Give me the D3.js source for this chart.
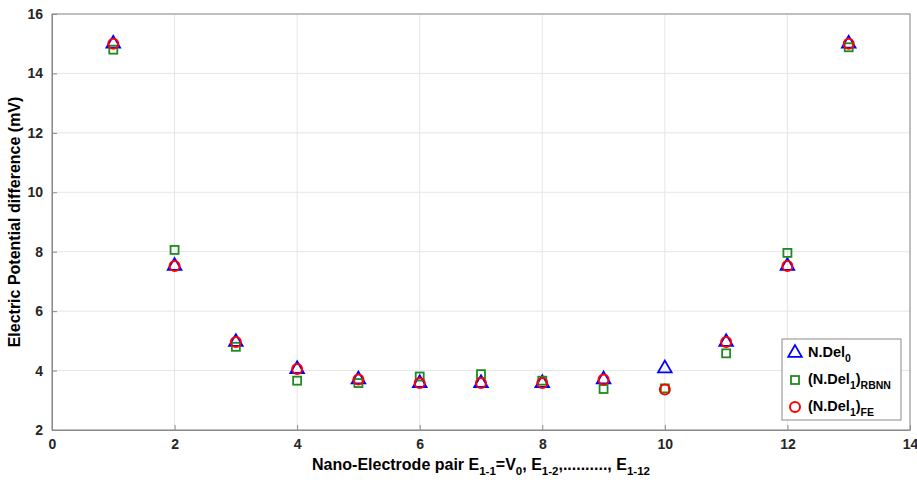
<!DOCTYPE html>
<html>
<head>
<meta charset="utf-8">
<script src="https://cdn.jsdelivr.net/npm/d3@7"></script>
<style>
  body { margin: 0; background: #fff; }
  text { font-family: "Liberation Sans", Arial, sans-serif; font-weight: bold; }
</style>
</head>
<body>
<div id="chart"></div>
<script>
// data
const pairs = [1, 2, 3, 4, 5, 6, 7, 8, 9, 10, 11, 12, 13]
const nDel0 = [15.0, 7.52, 4.96, 4.05, 3.7, 3.58, 3.58, 3.58, 3.7, 4.07, 4.96, 7.52, 15.0]
const rbnn  = [14.8, 8.06, 4.8, 3.66, 3.58, 3.8, 3.88, 3.66, 3.38, 3.4, 4.58, 7.96, 14.88]
const fe    = [15.0, 7.52, 4.96, 4.05, 3.7, 3.58, 3.58, 3.58, 3.7, 3.36, 4.96, 7.52, 15.0]
const xTicks = [0, 2, 4, 6, 8, 10, 12, 14]
const yTicks = [2, 4, 6, 8, 10, 12, 14, 16]

// layout
const W = 917, H = 485
const margin = {top: 14, right: 7, bottom: 55, left: 52},
    width = W - margin.left - margin.right,
    height = H - margin.top - margin.bottom

const svg = d3.select("#chart").append("svg")
  .attr("width", W)
  .attr("height", H)

const g = svg.append("g")
  .attr("transform", "translate(" + margin.left + "," + margin.top + ")")

const x = d3.scaleLinear().domain([0, 14]).range([0, width])
const y = d3.scaleLinear().domain([2, 16]).range([height, 0])

// grid
g.append("g").selectAll("line").data(xTicks).join("line")
  .attr("x1", d => x(d)).attr("x2", d => x(d))
  .attr("y1", 0).attr("y2", height)
  .attr("stroke", "#e6e6e6")
g.append("g").selectAll("line").data(yTicks).join("line")
  .attr("x1", 0).attr("x2", width)
  .attr("y1", d => y(d)).attr("y2", d => y(d))
  .attr("stroke", "#e6e6e6")

// axes
const xAxis = g.append("g")
  .attr("transform", "translate(0," + height + ")")
  .call(d3.axisBottom(x).tickValues(xTicks).tickSizeInner(-5).tickSizeOuter(0).tickPadding(9))
const yAxis = g.append("g")
  .call(d3.axisLeft(y).tickValues(yTicks).tickSizeInner(-5).tickSizeOuter(0).tickPadding(9))

;[xAxis, yAxis].forEach(a => {
  a.select(".domain").attr("stroke", "#8a8a8a")
  a.selectAll(".tick line").attr("stroke", "#8a8a8a")
  a.selectAll(".tick text")
    .attr("fill", "#262626")
    .style("font-size", "14px")
    .style("font-family", "Liberation Sans, Arial, sans-serif")
    .style("font-weight", "bold")
})

// box
g.append("rect")
  .attr("width", width).attr("height", height)
  .attr("fill", "none").attr("stroke", "#8a8a8a")

// markers
const tri = d3.symbol().type(d3.symbolTriangle).size(80)

g.append("g").selectAll("path").data(pairs).join("path")
  .attr("d", tri)
  .attr("transform", (d, i) => "translate(" + x(d) + "," + y(nDel0[i]) + ")")
  .attr("fill", "none").attr("stroke", "#0000ff").attr("stroke-width", 1.8)

g.append("g").selectAll("rect").data(pairs).join("rect")
  .attr("x", d => x(d) - 4).attr("y", (d, i) => y(rbnn[i]) - 4)
  .attr("width", 8).attr("height", 8)
  .attr("fill", "none").attr("stroke", "#1f8a1f").attr("stroke-width", 1.8)

g.append("g").selectAll("circle").data(pairs).join("circle")
  .attr("cx", d => x(d)).attr("cy", (d, i) => y(fe[i]))
  .attr("r", 5)
  .attr("fill", "none").attr("stroke", "#ff0000").attr("stroke-width", 2)

// legend
const leg = svg.append("g").attr("transform", "translate(782,339)")
leg.append("rect").attr("width", 119).attr("height", 81)
  .attr("fill", "#fff").attr("stroke", "#8a8a8a")

leg.append("path").attr("d", tri)
  .attr("transform", "translate(13,14)")
  .attr("fill", "none").attr("stroke", "#0000ff").attr("stroke-width", 1.8)
leg.append("rect").attr("x", 9).attr("y", 37).attr("width", 8).attr("height", 8)
  .attr("fill", "none").attr("stroke", "#1f8a1f").attr("stroke-width", 1.8)
leg.append("circle").attr("cx", 13).attr("cy", 68).attr("r", 5)
  .attr("fill", "none").attr("stroke", "#ff0000").attr("stroke-width", 2)

function legText(yy, parts) {
  const t = leg.append("text").attr("x", 26).attr("y", yy)
    .attr("fill", "#000")
  parts.forEach(p => {
    t.append("tspan").text(p[0])
      .attr("dy", p[1])
      .style("font-size", p[2] + "px")
  })
}
legText(18, [["N.Del", 0, 14.5], ["0", 5, 10.5]])
legText(45, [["(N.Del", 0, 14.5], ["1", 5, 10.5], [")", -5, 14.5], ["RBNN", 5, 10.5]])
legText(72, [["(N.Del", 0, 14.5], ["1", 5, 10.5], [")", -5, 14.5], ["FE", 5, 10.5]])

// axis labels
const xl = svg.append("text")
  .attr("x", margin.left + width / 2).attr("y", 470)
  .attr("text-anchor", "middle").attr("fill", "#000")
;[["Nano-Electrode pair E", 0, 16], ["1-1", 5, 11.5], ["=V", -5, 16], ["0", 5, 11.5],
  [", E", -5, 16], ["1-2", 5, 11.5], [",.........., E", -5, 16], ["1-12", 5, 11.5]]
  .forEach(p => xl.append("tspan").text(p[0]).attr("dy", p[1]).style("font-size", p[2] + "px"))

svg.append("text")
  .attr("transform", "translate(20," + (margin.top + height / 2) + ") rotate(-90)")
  .attr("text-anchor", "middle").attr("fill", "#000")
  .style("font-size", "16px")
  .text("Electric Potential difference (mV)")
</script>
</body>
</html>
